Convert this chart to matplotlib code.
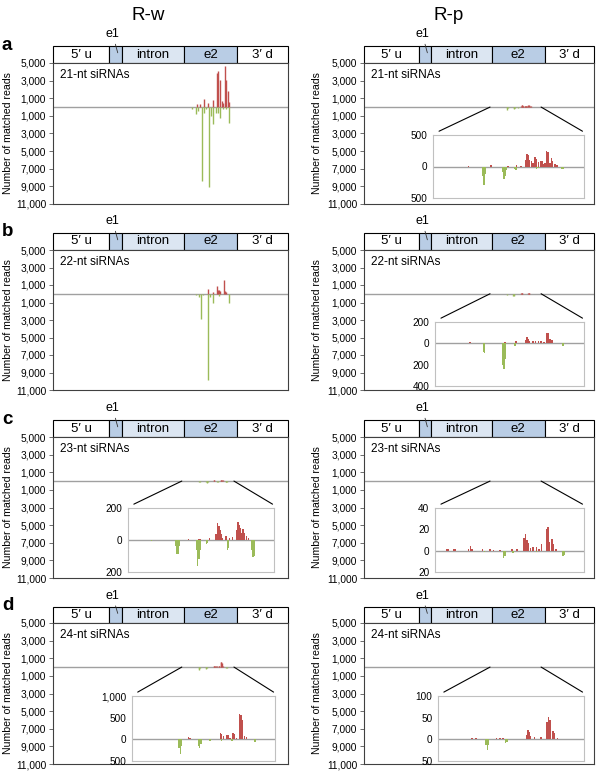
import matplotlib
matplotlib.use('Agg')
import matplotlib.pyplot as plt
from matplotlib.patches import Rectangle, ConnectionPatch
from matplotlib.ticker import FixedLocator, FuncFormatter

plt.rcParams['font.family'] = ['Liberation Sans', 'DejaVu Sans']

# ---------------- data ----------------
conditions = ['R-w', 'R-p']
size_classes = ['21-nt siRNAs', '22-nt siRNAs', '23-nt siRNAs', '24-nt siRNAs']
panel_letters = ['a', 'b', 'c', 'd']

gene_bounds = [0, 239, 292, 557, 785, 1000]
gene_labels = ['5′ u', '', 'intron', 'e2', '3′ d']
zoom_range = [548, 770]

main_ticks = [5000, 3000, 1000, -1000, -3000, -5000, -7000, -9000, -11000]

# R-w 21 nt
rw21_up_x = [611, 626, 644, 661, 682, 696, 703, 709, 718, 722, 732, 737, 743, 749]
rw21_up_y = [300, 380, 950, 490, 750, 3900, 4100, 3100, 680, 490, 4700, 3100, 1800, 570]
rw21_dn_x = [593, 610, 619, 636, 644, 652, 664, 672, 681, 692, 703, 711, 722, 735, 750]
rw21_dn_y = [260, 830, 450, 8400, 640, 260, 9100, 1020, 1970, 640, 640, 1210, 260, 260, 1780]
# R-p 21 nt
rp21_up_x = [600, 633, 658, 671, 677, 684, 686, 688, 690, 693, 695, 698, 700, 703, 706,
             708, 710, 713, 715, 717, 720, 722, 724, 727, 730]
rp21_up_y = [10, 30, 8, 25, 10, 110, 200, 180, 100, 80, 60, 145, 120, 70, 90,
             90, 40, 60, 250, 230, 50, 130, 90, 45, 20]
rp21_dn_x = [621, 623, 625, 650, 652, 654, 656, 668, 670, 700, 702, 737, 739]
rp21_dn_y = [150, 290, 120, 80, 195, 150, 60, 40, 60, 40, 30, 45, 40]
# R-w 22 nt
rw22_up_x = [661, 681, 697, 701, 705, 712, 729, 733, 738]
rw22_up_y = [550, 190, 900, 450, 380, 265, 1600, 265, 150]
rw22_dn_x = [610, 621, 630, 640, 661, 666, 680, 705, 750]
rw22_dn_y = [100, 400, 2900, 190, 9900, 350, 1100, 300, 1100]
# R-p 22 nt
rp22_up_x = [600, 652, 669, 683, 685, 687, 689, 694, 698, 702, 706, 710, 715, 717, 719, 722]
rp22_up_y = [15, 12, 20, 35, 57, 45, 25, 20, 22, 18, 25, 15, 100, 95, 40, 28]
rp22_dn_x = [620, 622, 649, 651, 653, 667, 739]
rp22_dn_y = [80, 88, 200, 237, 150, 22, 25]
# R-w 23 nt
rw23_up_x = [615, 640, 656, 658, 672, 682, 684, 686, 688, 690, 692, 697, 702, 707,
             713, 715, 717, 719, 721, 723, 725, 728, 731]
rw23_up_y = [2, 5, 8, 8, 10, 40, 105, 90, 60, 40, 10, 25, 10, 20,
             60, 110, 95, 78, 45, 67, 46, 25, 10]
rw23_dn_x = [584, 620, 622, 624, 626, 652, 654, 656, 658, 667, 669, 699, 701, 736, 738, 740]
rw23_dn_y = [6, 40, 90, 85, 40, 60, 165, 120, 60, 27, 20, 60, 50, 60, 107, 100]
# R-p 23 nt
rp23_up_x = [565, 567, 576, 578, 598, 601, 603, 619, 630, 635, 645, 663, 670, 681, 683,
             685, 687, 690, 694, 699, 703, 707, 714, 716, 718, 722, 724, 728]
rp23_up_y = [2, 2, 1.5, 1.5, 2, 4.5, 2, 1.5, 1.5, 1, 1, 1.5, 1.5, 12, 16,
             10, 7, 2.5, 3, 3, 2, 6, 20, 22, 8, 10.5, 6, 2]
rp23_dn_x = [622, 650, 652, 664, 699, 739, 741]
rp23_dn_y = [1.5, 6.5, 5, 2.5, 1, 5, 4]
# R-w 24 nt
rw24_up_x = [636, 638, 685, 687, 690, 695, 697, 700, 705, 707, 710, 715, 717, 719, 723, 726]
rw24_up_y = [45, 40, 150, 130, 85, 110, 90, 40, 140, 120, 40, 590, 570, 440, 85, 50]
rw24_dn_x = [621, 623, 625, 651, 653, 655, 669, 687, 703, 738, 740]
rw24_dn_y = [200, 330, 150, 150, 210, 100, 40, 40, 40, 70, 60]
# R-p 24 nt
rp24_up_x = [576, 594, 600, 606, 631, 637, 642, 647, 665, 672, 683, 685, 687, 689, 695,
             705, 714, 716, 718, 723, 725, 730]
rp24_up_y = [1.5, 1.5, 3, 2, 1, 3, 3, 2.5, 1.5, 1.5, 10, 22, 18, 8, 5,
             5, 40, 52, 45, 20, 15, 2]
rp24_dn_x = [621, 623, 625, 651, 653]
rp24_dn_y = [12, 24, 12, 9, 6]

# inset ranges (None = no inset)
rw_inset_ylim = [None, None, (-200, 200), (-500, 1000)]
rw_inset_ticks = [None, None, [200, 0, -200], [1000, 500, 0, -500]]
rp_inset_ylim = [(-500, 500), (-400, 200), (-20, 40), (-50, 100)]
rp_inset_ticks = [[500, 0, -500], [200, 0, -200, -400], [40, 20, 0, -20], [100, 50, 0, -50]]

series = {
    (0, 0): (rw21_up_x, rw21_up_y, rw21_dn_x, rw21_dn_y),
    (0, 1): (rp21_up_x, rp21_up_y, rp21_dn_x, rp21_dn_y),
    (1, 0): (rw22_up_x, rw22_up_y, rw22_dn_x, rw22_dn_y),
    (1, 1): (rp22_up_x, rp22_up_y, rp22_dn_x, rp22_dn_y),
    (2, 0): (rw23_up_x, rw23_up_y, rw23_dn_x, rw23_dn_y),
    (2, 1): (rp23_up_x, rp23_up_y, rp23_dn_x, rp23_dn_y),
    (3, 0): (rw24_up_x, rw24_up_y, rw24_dn_x, rw24_dn_y),
    (3, 1): (rp24_up_x, rp24_up_y, rp24_dn_x, rp24_dn_y),
}

# ---------------- layout / style ----------------
W, H = 600, 777
fig = plt.figure(figsize=(6, 7.77), dpi=100)


def rect(x0, y0, x1, y1):
    return [x0 / W, 1 - y1 / H, (x1 - x0) / W, (y1 - y0) / H]


RED = '#C0504D'
GREEN = '#9BBB59'
seg_colors = ['white', '#B9CDE5', '#DCE6F2', '#B9CDE5', 'white']
col_x = [(53, 288), (364, 594)]
row_y = [(46, 63, 204), (233, 250, 390), (420, 437, 578), (607, 623, 764)]
inset_px = {
    (0, 1): (433, 135, 584, 198),
    (1, 1): (435, 322, 584, 386),
    (2, 0): (128, 508, 274, 572),
    (2, 1): (435, 508, 584, 572),
    (3, 0): (132, 696, 275, 761),
    (3, 1): (438, 696, 584, 761),
}
ylabel_x = [8, 317]
title_x = [148, 449]

fmt = FuncFormatter(lambda v, p: f'{abs(int(round(v))):,}')

for ci, cond in enumerate(conditions):
    fig.text(title_x[ci] / W, 1 - 16 / H, cond, fontsize=13.5, ha='center', va='center')

for ri in range(4):
    gy0, my0, my1 = row_y[ri]
    fig.text(2 / W, 1 - (gy0 - 1) / H, panel_letters[ri], fontsize=13.5,
             fontweight='bold', ha='left', va='center')
    for ci in range(2):
        x0, x1 = col_x[ci]
        # gene structure bar
        ag = fig.add_axes(rect(x0, gy0, x1, my0))
        ag.set_xlim(0, 1000)
        ag.set_ylim(0, 1)
        ag.axis('off')
        for k in range(5):
            a, b = gene_bounds[k], gene_bounds[k + 1]
            ag.add_patch(Rectangle((a, 0), b - a, 1, facecolor=seg_colors[k],
                                   edgecolor='black', lw=0.8, clip_on=False))
            if gene_labels[k]:
                ag.text((a + b) / 2, 0.5, gene_labels[k], ha='center', va='center',
                        fontsize=9.5)
        e1c = (gene_bounds[1] + gene_bounds[2]) / 2
        ag.annotate('e1', xy=(e1c + 10, 0.6), xytext=(e1c - 12, 1.7),
                    ha='center', va='center', fontsize=9,
                    arrowprops=dict(arrowstyle='-', lw=0.6, color='#333333',
                                    shrinkA=1, shrinkB=0),
                    annotation_clip=False)

        # main axes
        am = fig.add_axes(rect(x0, my0, x1, my1))
        am.set_xlim(0, 1000)
        am.set_ylim(-11000, 5000)
        am.yaxis.set_major_locator(FixedLocator(main_ticks))
        am.yaxis.set_major_formatter(fmt)
        am.set_xticks([])
        am.tick_params(axis='y', labelsize=7.3, length=3, width=0.6, color='#555555', pad=2)
        for s in am.spines.values():
            s.set_color('#404040')
            s.set_linewidth(0.8)
        am.axhline(0, color='#A0A0A0', lw=1.0, zorder=1)
        ux, uy, dx, dy = series[(ri, ci)]
        am.vlines(ux, 0, uy, color=RED, lw=1.0, zorder=2)
        am.vlines(dx, 0, [-v for v in dy], color=GREEN, lw=1.0, zorder=2)
        am.text(0.03, 0.915, size_classes[ri], transform=am.transAxes,
                fontsize=8.5, ha='left', va='center')
        fig.text(ylabel_x[ci] / W, 1 - ((my0 + my1) / 2) / H, 'Number of matched reads',
                 rotation=90, fontsize=7.6, ha='center', va='center')

        # inset
        if (ri, ci) in inset_px:
            ylim = (rw_inset_ylim if ci == 0 else rp_inset_ylim)[ri]
            ticks = (rw_inset_ticks if ci == 0 else rp_inset_ticks)[ri]
            ai = fig.add_axes(rect(*inset_px[(ri, ci)]))
            ai.set_xlim(*zoom_range)
            ai.set_ylim(*ylim)
            ai.yaxis.set_major_locator(FixedLocator(ticks))
            ai.yaxis.set_major_formatter(fmt)
            ai.set_xticks([])
            ai.tick_params(axis='y', labelsize=7.2, length=0, pad=4)
            for s in ai.spines.values():
                s.set_color('#C0C0C0')
                s.set_linewidth(0.8)
            ai.axhline(0, color='#A0A0A0', lw=1.0, zorder=1)
            ai.bar(ux, uy, width=2.3, color=RED, linewidth=0, zorder=2)
            ai.bar(dx, [-v for v in dy], width=2.3, color=GREEN, linewidth=0, zorder=2)
            for zx, fx in ((zoom_range[0], 0.04), (zoom_range[1], 0.99)):
                cp = ConnectionPatch(xyA=(zx, 0), coordsA=am.transData,
                                     xyB=(fx, 1.06), coordsB=ai.transAxes,
                                     color='black', lw=0.8)
                fig.add_artist(cp)

fig.savefig('out.png', dpi=100, facecolor='white')
